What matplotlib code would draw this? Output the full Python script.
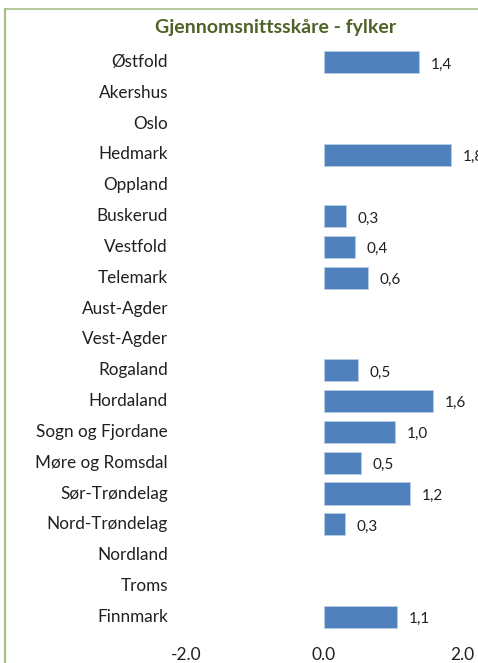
import matplotlib

matplotlib.use("Agg")
import matplotlib.pyplot as plt  # noqa: E402
from matplotlib.lines import Line2D  # noqa: E402

plt.rcParams["font.family"] = ["Lato", "DejaVu Sans"]

counties = ["Østfold", "Akershus", "Oslo", "Hedmark", "Oppland", "Buskerud",
            "Vestfold", "Telemark", "Aust-Agder", "Vest-Agder", "Rogaland",
            "Hordaland", "Sogn og Fjordane", "Møre og Romsdal", "Sør-Trøndelag",
            "Nord-Trøndelag", "Nordland", "Troms", "Finnmark"]
# None = no bar shown
scores = [1.38, None, None, 1.84, None, 0.32, 0.45, 0.64, None, None, 0.49,
          1.58, 1.03, 0.54, 1.24, 0.30, None, None, 1.06]
labels = ["1,4", "", "", "1,8", "", "0,3", "0,4", "0,6", "", "", "0,5",
          "1,6", "1,0", "0,5", "1,2", "0,3", "", "", "1,1"]
xticks = [-2.0, 0.0, 2.0]

W, H = 478, 663
fig = plt.figure(figsize=(W / 100, H / 100), dpi=100)
ax = fig.add_axes([186 / W, 1 - 632 / H, (462 - 186) / W, (632 - 47) / H])

for i, (v, lab) in enumerate(zip(scores, labels)):
    if v is None:
        continue
    ax.barh(i, v, height=0.72, color="#4F81BD", edgecolor="#B9CDE5", linewidth=0.6)
    ax.text(v + 0.17, i + 0.07, lab, va="center", ha="left", fontsize=11,
            color="#202020", clip_on=False)

ax.set_xlim(-2, 2)
ax.set_ylim(len(counties) - 0.5, -0.5)
ax.set_yticks([])
ax.set_xticks(xticks)
ax.set_xticklabels([f"{t:.1f}" for t in xticks], fontsize=12.5, color="#202020")
ax.tick_params(axis="x", length=0, pad=11)
for s in ax.spines.values():
    s.set_visible(False)

# category names sit to the left of the plot area, right-aligned
for i, name in enumerate(counties):
    fig.text(168 / W, 1 - (62 + i * 30.83) / H, name, ha="right", va="center",
             fontsize=12.3, color="#202020")

fig.text(276 / W, 1 - 27 / H, "Gjennomsnittsskåre - fylker", ha="center",
         va="center", fontsize=14, fontweight="bold", color="#4F6228")

# chart border (cropped on the right and bottom)
border = "#A9C08A"
fig.add_artist(Line2D([5 / W, 5 / W], [1 - 9 / H, 0], transform=fig.transFigure,
                      color=border, linewidth=1.6))
fig.add_artist(Line2D([5 / W, 1], [1 - 9 / H, 1 - 9 / H], transform=fig.transFigure,
                      color=border, linewidth=1.2))

fig.savefig("out.png", dpi=100)
